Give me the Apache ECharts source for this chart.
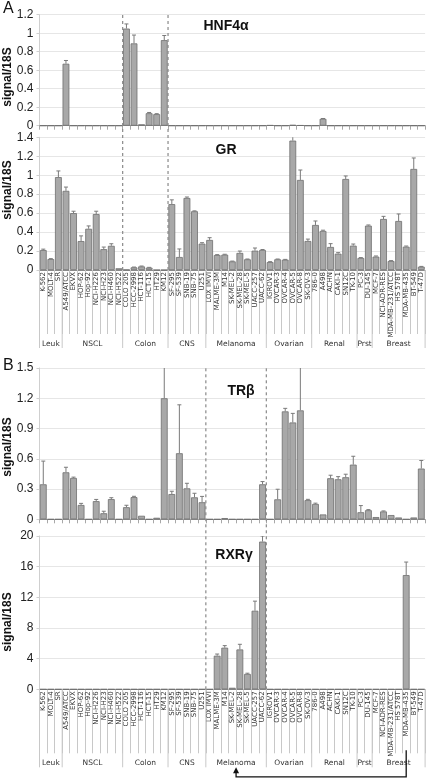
<!DOCTYPE html>
<html><head><meta charset="utf-8">
<script src="https://cdn.jsdelivr.net/npm/echarts@6/dist/echarts.min.js"></script>
<style>html,body{margin:0;padding:0;background:#fff}#c{width:427px;height:779px}</style>
</head><body><div id="c"></div><script>
// ---------------- DATA ----------------
const cellLines = ['K-562','MOLT-4','SR','A549/ATCC','EKVX','HOP-62','Hop-92','NCI-H226','NCI-H23','NCI-H460','NCI-H522',
 'COLO 205','HCC-2998','HCT-116','HCT-15','HT29','KM12','SF-295','SF-539','SNB-19','SNB-75','U251',
 'LOX IMVI','MALME-3M','M14','SK-MEL-2','SK-MEL-28','SK-MEL-5','UACC-257','UACC-62',
 'IGROV1','OVCAR-3','OVCAR-4','OVCAR-5','OVCAR-8','SK-OV-3','786-0','A498','ACHN','CAKI-1','SN12C','TK-10',
 'PC-3','DU-145','MCF-7','NCI-ADR-RES','MDA-MB-231/ATCC','HS 578T','MDA-MB-435','BT-549','T-47D'];
const groupNames = ['Leuk','NSCL','Colon','CNS','Melanoma','Ovarian','Renal','Prst','Breast'];
const groupSizes = [3,8,6,5,8,6,6,2,7];

const hnf4a = [0,0,0, 0.67,0,0,0,0,0,0,0, 1.05,0.89,0.015,0.135,0.125,0.925, 0,0,0,0,0,
 0,0,0,0,0,0,0,0, 0.006,0,0,0.009,0.005,0, 0,0.075,0,0,0,0, 0,0, 0,0,0,0,0,0,0];
const hnf4aErr = [0,0,0, 0.035,0,0,0,0,0,0,0, 0.05,0.09,0,0.008,0.005,0.05, 0,0,0,0,0,
 0,0,0,0,0,0,0,0, 0,0,0,0,0,0, 0,0.003,0,0,0,0, 0,0, 0,0,0,0,0,0,0];

const gr = [0.21,0.115,0.98, 0.835,0.60,0.305,0.435,0.59,0.22,0.255,0.018, 0.003,0.028,0.038,0.025,0,0,
 0.695,0.137,0.76,0.62,0.278, 0.317,0.158,0.162,0.091,0.18,0.113,0.204,0.211,
 0.084,0.113,0.109,1.365,0.95,0.306, 0.475,0.412,0.243,0.172,0.96,0.257, 0.127,0.468,
 0.141,0.538,0.095,0.517,0.246,1.066,0.035];
const grErr = [0.01,0.005,0.065, 0.04,0.02,0.055,0.03,0.03,0.022,0.022,0, 0,0.003,0.004,0.003,0,0,
 0.045,0.085,0.01,0.004,0.01, 0.024,0.004,0.004,0.003,0.02,0.003,0.028,0.005,
 0.004,0.003,0.003,0.06,0.105,0.02, 0.042,0.008,0.035,0.011,0.032,0.017, 0.004,0.007,
 0.007,0.028,0.004,0.074,0.007,0.116,0.003];

const trb = [0.347,0,0, 0.466,0.41,0.142,0,0.18,0.06,0.20,0, 0.12,0.22,0.035,0,0.015,1.20,
 0.25,0.655,0.307,0.218,0.169, 0,0,0.012,0,0,0,0,0.347,
 0,0.198,1.07,0.96,1.08,0.19, 0.152,0.048,0.407,0.397,0.417,0.542, 0.07,0.09,
 0.022,0.078,0.042,0.018,0,0.018,0.503];
const trbErr = [0.23,0,0, 0.05,0.008,0.016,0,0.017,0.02,0.014,0, 0.019,0.008,0,0,0,0.45,
 0.028,0.48,0.05,0.04,0.058, 0,0,0,0,0,0,0,0.027,
 0,0.10,0.03,0.09,0.45,0.008, 0.008,0,0.03,0.026,0.03,0.083, 0.066,0.006,
 0,0.005,0,0,0,0,0.08];

const rxrg = [0,0,0, 0,0,0,0,0,0,0,0, 0,0,0,0,0,0, 0,0,0,0,0,
 0,4.38,5.43,0.2,5.2,2.0,10.25,19.27, 0,0,0,0,0,0, 0,0,0,0,0,0, 0,0,
 0,0,0,0,14.9,0,0];
const rxrgErr = [0,0,0, 0,0,0,0,0,0,0,0, 0,0,0,0,0,0, 0,0,0,0,0,
 0,0.22,0.27,0,0.67,0.1,1.25,0.73, 0,0,0,0,0,0, 0,0,0,0,0,0, 0,0,
 0,0,0,0,1.7,0,0];

const yMax = [1.2, 1.4, 1.5, 20];
const yStep = [0.2, 0.2, 0.3, 4];
const panelTitles = ['HNF4\u03b1','GR','TR\u03b2','RXR\u03b3'];
const highlightA = 'Colon', highlightB = 'Melanoma';
const arrowFrom = 'MDA-MB-435', arrowTo = 'Melanoma';

// ---------------- LAYOUT ----------------
const L = {left:39.5, right:1.9, g:[{top:14.7,h:111},{top:137.3,h:132.7},{top:368,h:151.3},{top:536,h:153.3}]};
const groups = [];
{ let s=0; groupNames.forEach((n,k)=>{ groups.push({name:n,start:s,end:s+groupSizes[k]-1}); s+=groupSizes[k]; }); }
const gA = groups.find(g=>g.name===highlightA), gB = groups.find(g=>g.name===highlightB);

const chart = echarts.init(document.getElementById('c'), null, {renderer:'canvas'});

function errRender(params, api){
  const i = api.value(0), v = api.value(1), e = api.value(2);
  if(!e) return null;
  const p0 = api.coord([i, v]), p1 = api.coord([i, v+e]);
  const st = {stroke:'#7a7a7a', lineWidth:1};
  return {type:'group', children:[
    {type:'line', shape:{x1:p0[0],y1:p0[1],x2:p1[0],y2:p1[1]}, style:st},
    {type:'line', shape:{x1:p1[0]-2,y1:p1[1],x2:p1[0]+2,y2:p1[1]}, style:st}
  ]};
}

function dashedRender(upperTop, ymax){
  return function(params, api){
    const b = api.value(0);
    const band = api.size([1,0])[0];
    const x = api.coord([b,0])[0] - band/2;
    const yb = api.coord([b,0])[1];
    const yt = api.coord([b,ymax])[1] - upperTop;
    return {type:'line', shape:{x1:x,y1:yb,x2:x,y2:yt}, style:{stroke:'#8a8a8a', lineWidth:1.2, lineDash:[3,3]}};
  };
}

function groupRender(sepLen, labelOff){
  return function(params, api){
    const g = groups[params.dataIndex];
    const band = api.size([1,0])[0];
    const x0 = api.coord([g.start,0])[0]-band/2, x1 = api.coord([g.end,0])[0]+band/2;
    const y0 = api.coord([g.start,0])[1];
    const st = {stroke:'#c8c8c8', lineWidth:1};
    const ch = [{type:'line', shape:{x1:x0,y1:y0,x2:x0,y2:y0+sepLen}, style:st}];
    if(params.dataIndex === groups.length-1) ch.push({type:'line', shape:{x1:x1,y1:y0,x2:x1,y2:y0+sepLen}, style:st});
    ch.push({type:'text', style:{text:g.name, x:(x0+x1)/2, y:y0+labelOff, align:'center', verticalAlign:'middle',
      fontSize:7.5, fontFamily:'DejaVu Sans', fill:'#333'}});
    return {type:'group', children:ch};
  };
}

function arrowRender(params, api){
  const fi = cellLines.indexOf(arrowFrom);
  const tg = groups.find(g=>g.name===arrowTo);
  const band = api.size([1,0])[0];
  const xf = api.coord([fi,0])[0];
  const xt = (api.coord([tg.start,0])[0] + api.coord([tg.end,0])[0])/2;
  const y0 = api.coord([fi,0])[1];
  const yl = y0+87.5;
  const st = {stroke:'#111', lineWidth:1.3, fill:null};
  return {type:'group', children:[
    {type:'polyline', shape:{points:[[xf,y0+61],[xf,yl],[xt,yl],[xt,y0+83]]}, style:st},
    {type:'polygon', shape:{points:[[xt-3,y0+84],[xt+3,y0+84],[xt,y0+78]]}, style:{fill:'#111'}}
  ]};
}

const grids = L.g.map(g=>({left:L.left, right:L.right, top:g.top, height:g.h}));
const xAxes = [0,1,2,3].map(k=>{
  const lower = (k===1||k===3);
  return {
    type:'category', gridIndex:k, data:cellLines, boundaryGap:true,
    axisLine:{lineStyle:{color:'#8c8c8c', width:1}},
    axisTick:{show:true, interval:0, length: lower?64:4, lineStyle:{color: lower?'#c8c8c8':'#a8a8a8'}},
    axisLabel: lower ? {show:true, interval:0, rotate:90, fontSize:7, fontFamily:'DejaVu Sans', color:'#333', margin:2} : {show:false}
  };
});
const yAxes = [0,1,2,3].map(k=>({
  type:'value', gridIndex:k, min:0, max:yMax[k], interval:yStep[k],
  axisLine:{show:true, lineStyle:{color:'#cfcfcf'}},
  axisTick:{show:true, length:3, lineStyle:{color:'#cfcfcf'}},
  splitLine:{lineStyle:{color:'#e6e6e6'}},
  axisLabel:{fontSize:12, fontFamily:'Liberation Sans, Arial', color:'#222', margin:6}
}));

const vals = [hnf4a, gr, trb, rxrg], errs = [hnf4aErr, grErr, trbErr, rxrgErr];
const series = [];
vals.forEach((v,k)=>{
  series.push({type:'bar', xAxisIndex:k, yAxisIndex:k, data:v, barCategoryGap:'10%',
    itemStyle:{color:'#a8a8a8', borderColor:'#6e6e6e', borderWidth:0.8}, z:2});
  series.push({type:'custom', xAxisIndex:k, yAxisIndex:k, clip:true, z:3,
    data:v.map((x,i)=>[i,x,errs[k][i]]), encode:{x:0,y:1}, renderItem:errRender});
});
// dashed separators (drawn from lower panel up through upper panel)
series.push({type:'custom', xAxisIndex:1, yAxisIndex:1, clip:false, z:4, encode:{x:0,y:1},
  data:[[gA.start,0],[gA.end+1,0]], renderItem:dashedRender(L.g[1].top-L.g[0].top, yMax[1])});
series.push({type:'custom', xAxisIndex:3, yAxisIndex:3, clip:false, z:4, encode:{x:0,y:1},
  data:[[gB.start,0],[gB.end+1,0]], renderItem:dashedRender(L.g[3].top-L.g[2].top, yMax[3])});
// group labels
series.push({type:'custom', xAxisIndex:1, yAxisIndex:1, clip:false, z:4, encode:{x:0,y:1},
  data:groups.map(g=>[g.start,0]), renderItem:groupRender(78,74)});
series.push({type:'custom', xAxisIndex:3, yAxisIndex:3, clip:false, z:4, encode:{x:0,y:1},
  data:groups.map(g=>[g.start,0]), renderItem:groupRender(78,73.5)});
// arrow
series.push({type:'custom', xAxisIndex:3, yAxisIndex:3, clip:false, z:4, encode:{x:0,y:1},
  data:[[0,0]], renderItem:arrowRender});

const titlePos = [[226,26],[226,150],[241,391],[234,555]];
const ylabPos = [77,190,447,622];
const graphic = [
  {type:'text', left:3, top:1, style:{text:'A', font:'16px "Liberation Sans", Arial', fill:'#111'}},
  {type:'text', left:3, top:358, style:{text:'B', font:'16px "Liberation Sans", Arial', fill:'#111'}}
];
panelTitles.forEach((t,k)=>graphic.push({type:'text', x:titlePos[k][0], y:titlePos[k][1],
  style:{text:t, font:'bold 14px "Liberation Sans", Arial', fill:'#111', align:'center', verticalAlign:'middle'}}));
ylabPos.forEach(y=>graphic.push({type:'text', x:8, y:y, rotation:Math.PI/2,
  style:{text:'signal/18S', font:'bold 12px "Liberation Sans", Arial', fill:'#111', align:'center', verticalAlign:'middle'}}));

chart.setOption({animation:false, grid:grids, xAxis:xAxes, yAxis:yAxes, series:series, graphic:graphic});
</script></body></html>
